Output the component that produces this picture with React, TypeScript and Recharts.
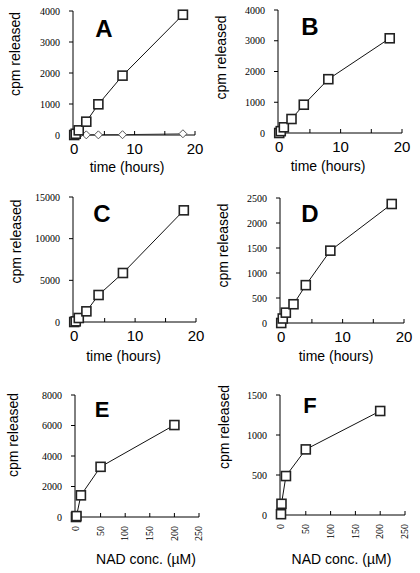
import React from "react";
import { LineChart, Line, XAxis, YAxis, Label } from "recharts";

// time courses (hours vs cpm released)
const hoursA = [0, 0.25, 0.75, 2, 4, 8, 18];
const cpmA = [0, 40, 150, 430, 990, 1915, 3880];
const controlHoursA = [0, 0.75, 2, 4, 8, 18];
const controlA = [0, 0, 5, 5, 10, 40];
const hoursB = [0, 0.25, 0.75, 2, 4, 8, 18];
const cpmB = [0, 60, 185, 455, 920, 1750, 3080];
const hoursC = [0, 0.25, 0.75, 2, 4, 8, 18];
const cpmC = [0, 80, 480, 1280, 3240, 5880, 13400];
const hoursD = [0, 0.25, 0.75, 2, 4, 8, 18];
const cpmD = [0, 90, 207, 375, 757, 1447, 2380];

// NAD dose responses (µM vs cpm released)
const nadE = [0, 1, 10, 50, 200];
const cpmE = [0, 60, 1420, 3290, 6030];
const nadF = [0, 1, 10, 50, 200];
const cpmF = [10, 140, 487, 820, 1300];

const timeTicks = [0, 5, 10, 15, 20];
const nadTicks = [0, 50, 100, 150, 200, 250];
const ticksAB = [0, 1000, 2000, 3000, 4000];
const ticksC = [0, 5000, 10000, 15000];
const ticksD = [0, 500, 1000, 1500, 2000, 2500];
const ticksE = [0, 2000, 4000, 6000, 8000];
const ticksF = [0, 500, 1000, 1500];

const SANS = "'Liberation Sans', Arial, sans-serif";
const SERIF = "'Liberation Serif', 'Times New Roman', serif";

const pts = (xs: number[], ys: number[]) => xs.map((x, i) => ({ x, y: ys[i] }));

const Square = (p: any) => {
  if (p.cx == null || p.cy == null) return null;
  return (
    <rect x={p.cx - 4.5} y={p.cy - 4.5} width={9} height={9}
      fill="#fff" stroke="#222" strokeWidth={1.6} />
  );
};

const Diamond = (p: any) => {
  if (p.cx == null || p.cy == null) return null;
  const { cx, cy } = p;
  return (
    <polygon points={`${cx},${cy - 4} ${cx + 4},${cy} ${cx},${cy + 4} ${cx - 4},${cy}`}
      fill="#fff" stroke="#555" strokeWidth={1} />
  );
};

// x ticks for the time panels: only 0, 10, 20 carry a label
const TimeTick = (p: any) => {
  const { x, y, payload } = p;
  if (payload.value % 10 !== 0) return null;
  return (
    <text x={x} y={y} dy="0.71em" textAnchor="middle"
      style={{ fontFamily: SANS, fontSize: 15 }} fill="#000">
      {payload.value}
    </text>
  );
};

const RotTick = (p: any) => {
  const { x, y, payload } = p;
  return (
    <text x={x} y={y} dy="0.33em" transform={`rotate(-90, ${x}, ${y})`}
      textAnchor="end" style={{ fontFamily: SERIF, fontSize: 10 }} fill="#000">
      {payload.value}
    </text>
  );
};

const YTick = (p: any) => {
  const { x, y, payload } = p;
  return (
    <text x={x} y={y} dy="0.35em" textAnchor="end"
      style={{ fontFamily: SERIF, fontSize: 10 }} fill="#000">
      {payload.value}
    </text>
  );
};

const panels = [
  { letter: "A", left: 0, top: 0, h: 190, plot: { l: 73, r: 195, t: 11, b: 135 },
    kind: "time", yTicks: ticksAB, series: [pts(hoursA, cpmA)], control: pts(controlHoursA, controlA),
    yTitle: { x: 15, dy: -19 }, xTitle: { dx: -7, off: 18 }, letterPos: [104, 37] },
  { letter: "B", left: 210, top: 0, h: 190, plot: { l: 278, r: 402, t: 10, b: 133 },
    kind: "time", yTicks: ticksAB, series: [pts(hoursB, cpmB)],
    yTitle: { x: 11, dy: -14 }, xTitle: { dx: -12, off: 19 }, letterPos: [310, 35] },
  { letter: "C", left: 0, top: 190, h: 190, plot: { l: 73, r: 196, t: 197, b: 322 },
    kind: "time", yTicks: ticksC, series: [pts(hoursC, cpmC)],
    yTitle: { x: 16, dy: -18 }, xTitle: { dx: -11, off: 19 }, letterPos: [102, 222] },
  { letter: "D", left: 210, top: 190, h: 190, plot: { l: 280, r: 404, t: 198, b: 323 },
    kind: "time", yTicks: ticksD, series: [pts(hoursD, cpmD)],
    yTitle: { x: 13, dy: -15 }, xTitle: { dx: -6, off: 19 }, letterPos: [310, 222] },
  { letter: "E", left: 0, top: 380, h: 193, plot: { l: 75, r: 199, t: 395, b: 517 },
    kind: "nad", yTicks: ticksE, series: [pts(nadE, cpmE)],
    yTitle: { x: 13, dy: -21 }, xTitle: { dx: 9, off: 9 }, letterPos: [102, 417] },
  { letter: "F", left: 210, top: 380, h: 193, plot: { l: 280, r: 405, t: 395, b: 515 },
    kind: "nad", yTicks: ticksF, series: [pts(nadF, cpmF)],
    yTitle: { x: 14, dy: -28 }, xTitle: { dx: -1, off: 9 }, letterPos: [310, 413] },
];

function Panel({ cfg }: { cfg: any }) {
  const W = 210;
  const { left, top, h, plot } = cfg;
  const isTime = cfg.kind === "time";
  const yMax = cfg.yTicks[cfg.yTicks.length - 1];
  return (
    <div style={{ position: "absolute", left, top, width: W, height: h }}>
      <LineChart width={W} height={h}
        margin={{ top: plot.t - top, right: left + W - plot.r, bottom: 0, left: 0 }}>
        <XAxis type="number" dataKey="x" allowDuplicatedCategory={false}
          domain={isTime ? [-0.2, 20] : [-2, 250]}
          ticks={isTime ? timeTicks : nadTicks} interval={0}
          height={top + h - plot.b}
          axisLine={{ stroke: "#000", strokeWidth: 1 }}
          tickLine={{ stroke: "#000", strokeWidth: 1 }}
          tickSize={-4} tickMargin={isTime ? 12 : 13}
          tick={isTime ? <TimeTick /> : <RotTick />}>
          <Label value={isTime ? "time (hours)" : "NAD conc. (µM)"} position="insideBottom"
            offset={cfg.xTitle.off} dx={cfg.xTitle.dx}
            style={{ fontFamily: SANS, fontSize: 14, fill: "#000" }} />
        </XAxis>
        <YAxis type="number" dataKey="y" domain={[0, yMax]} ticks={cfg.yTicks} interval={0}
          width={plot.l - left}
          axisLine={{ stroke: "#000", strokeWidth: 1 }}
          tickLine={{ stroke: "#000", strokeWidth: 1 }}
          tickSize={4} tickMargin={9}
          tick={<YTick />}>
          <Label value="cpm released" angle={-90} position="insideLeft"
            offset={cfg.yTitle.x} dy={cfg.yTitle.dy}
            style={{ fontFamily: SANS, fontSize: 14, fill: "#000", textAnchor: "middle" }} />
        </YAxis>
        {cfg.control && (
          <Line data={cfg.control} dataKey="y" stroke="#555" strokeWidth={1}
            isAnimationActive={false}
            dot={(p: any) => <Diamond key={`d-${p.index}`} {...p} />} />
        )}
        {cfg.series.map((s: any, i: number) => (
          <Line key={i} data={s} dataKey="y" stroke="#111" strokeWidth={1}
            isAnimationActive={false}
            dot={(p: any) => <Square key={`s-${p.index}`} {...p} />} />
        ))}
      </LineChart>
    </div>
  );
}

export default function App() {
  return (
    <div style={{ position: "absolute", left: 0, top: 0, width: 420, height: 573, background: "#fff" }}>
      {panels.map((cfg) => <Panel key={cfg.letter} cfg={cfg} />)}
      <svg width={420} height={573} style={{ position: "absolute", left: 0, top: 0, pointerEvents: "none" }}>
        {panels.map((cfg) => (
          <text key={cfg.letter} x={cfg.letterPos[0]} y={cfg.letterPos[1]} textAnchor="middle"
            fontFamily={SANS} fontWeight="bold" fontSize={cfg.kind === "time" ? 24 : 22} fill="#000">
            {cfg.letter}
          </text>
        ))}
      </svg>
    </div>
  );
}
